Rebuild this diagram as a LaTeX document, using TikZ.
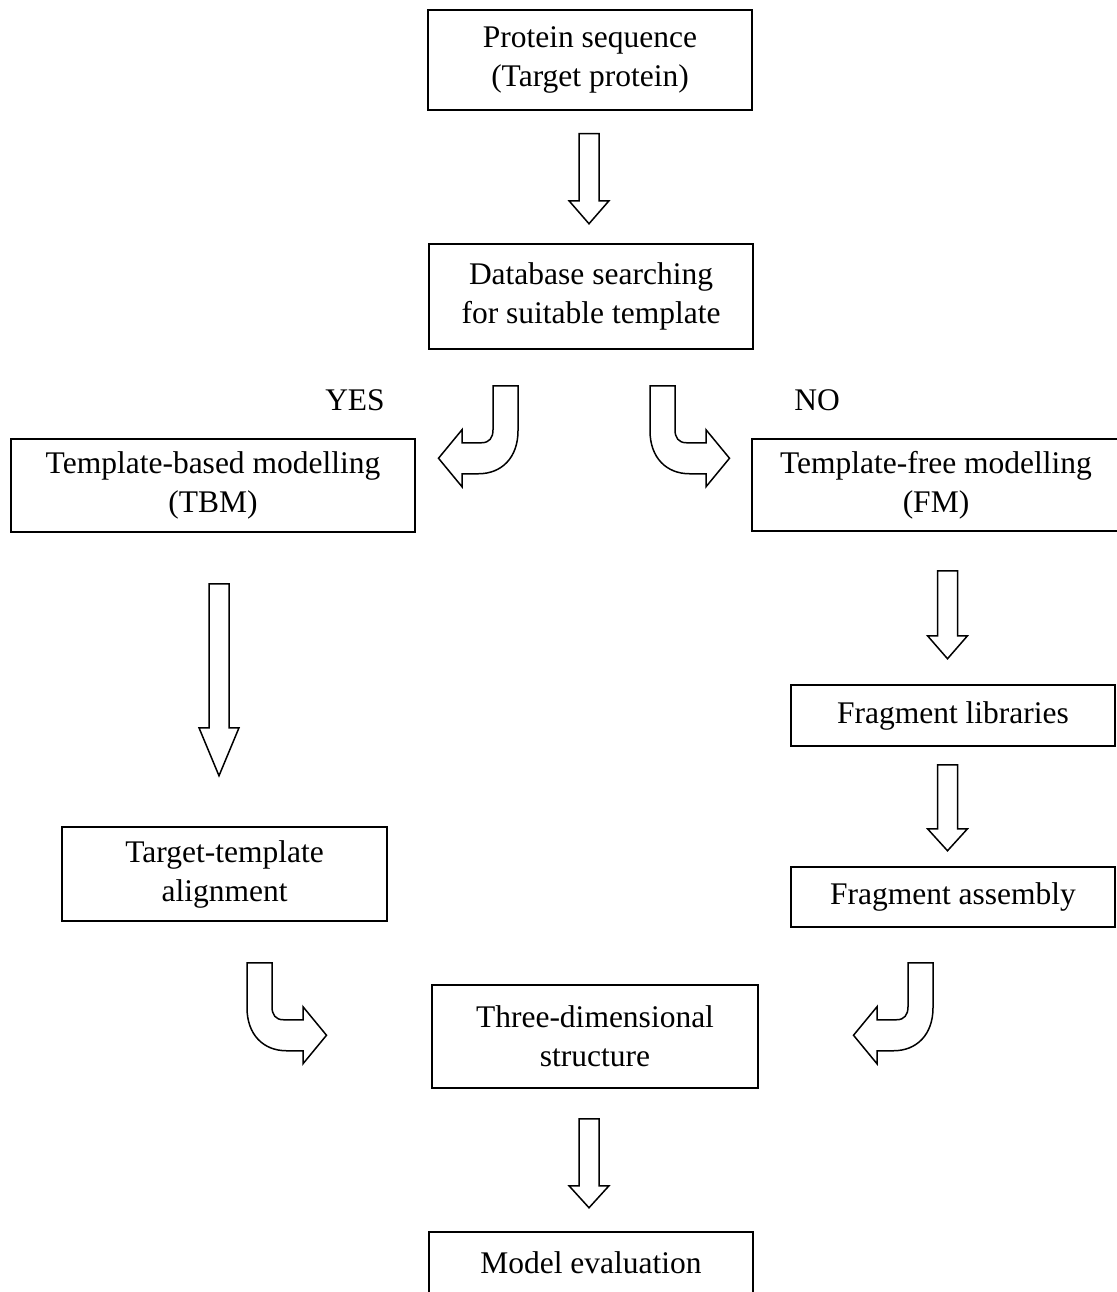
\documentclass[tikz,border=0pt]{standalone}
\usepackage{fontspec}
\setmainfont{Liberation Serif}
\usetikzlibrary{calc}
\usetikzlibrary{positioning}

\tikzset{
    stage/.style={draw, line width=1.5pt, align=center, inner sep=0pt,
        font=\fontsize{31.5}{39}\selectfont},
    answer/.style={font=\fontsize{31.5}{39}\selectfont},
    blockline/.style={line width=1.5pt, line join=miter},
    pics/downarr/.style 2 args={code={
        \draw[blockline] (-10,0) --(10,0) --(10,#1-#2) --(20,#1-#2) --(0,#1)
            --(-20,#1-#2) --(-10,#1-#2) --cycle;
    }},
    pics/bentarr/.style={code={
        \draw[blockline] (-12.5,0) --(12.5,0) --(12.5,45)
            .. controls (12.5,72) and (-4,88) .. (-27,88) --(-43.5,88)
            --(-43.5,101) --(-67,72.5) --(-43.5,44) --(-43.5,57) --(-24,57)
            .. controls (-16,57) and (-12.5,52) .. (-12.5,44) --cycle;
    }}
}

\begin{document}
\begin{tikzpicture}[x=1pt, y=-1pt]
    \useasboundingbox (0,0) rectangle (1116,1292);
    \node[stage, minimum width=324, minimum height=100] (prot) at (590,60)
        {Protein sequence\\(Target protein)};
    \node[stage, minimum width=324, minimum height=105] (db) at (591,296.5)
        {Database searching\\for suitable template};
    \node[stage, minimum width=404, minimum height=93] (tbm) at (213,485.5)
        {Template-based modelling\\(TBM)};
    \node[stage, minimum width=368, minimum height=92] (fm) at (936,485)
        {Template-free modelling\\(FM)};
    \node[stage, minimum width=325, minimum height=94] (tta) at (224.5,874)
        {Target-template\\alignment};
    \node[stage, minimum width=324, minimum height=61] (flib) at (953,715.5)
        {Fragment libraries};
    \node[stage, minimum width=324, minimum height=60] (fasm) at (953,897)
        {Fragment assembly};
    \node[stage, minimum width=326, minimum height=103] (three) at (595,1036.5)
        {Three-dimensional\\structure};
    \node[stage, minimum width=324, minimum height=61] (eval) at (591,1262.5)
        {Model evaluation};
    \node[answer] (yes) at (355,400) {YES};
    \node[answer] (no) at (817,400) {NO};

    \pic at ($(prot.south)+(-1,23)$) {downarr={90}{23}};
    \pic at ($(db.south)+(-85.5,36)$) {bentarr};
    \pic[xscale=-1] at ($(db.south)+(71.5,36)$) {bentarr};
    \pic at ($(tbm.south)+(6,51)$) {downarr={192}{48}};
    \pic at ($(fm.south)+(11.5,39)$) {downarr={88}{23}};
    \pic at ($(flib.south)+(-5.5,18)$) {downarr={86}{22}};
    \pic[xscale=-1] at ($(tta.south)+(35,41)$) {bentarr};
    \pic at ($(fasm.south)+(-32.5,35)$) {bentarr};
    \pic at ($(three.south)+(-6,30)$) {downarr={89}{22}};
\end{tikzpicture}
\end{document}
